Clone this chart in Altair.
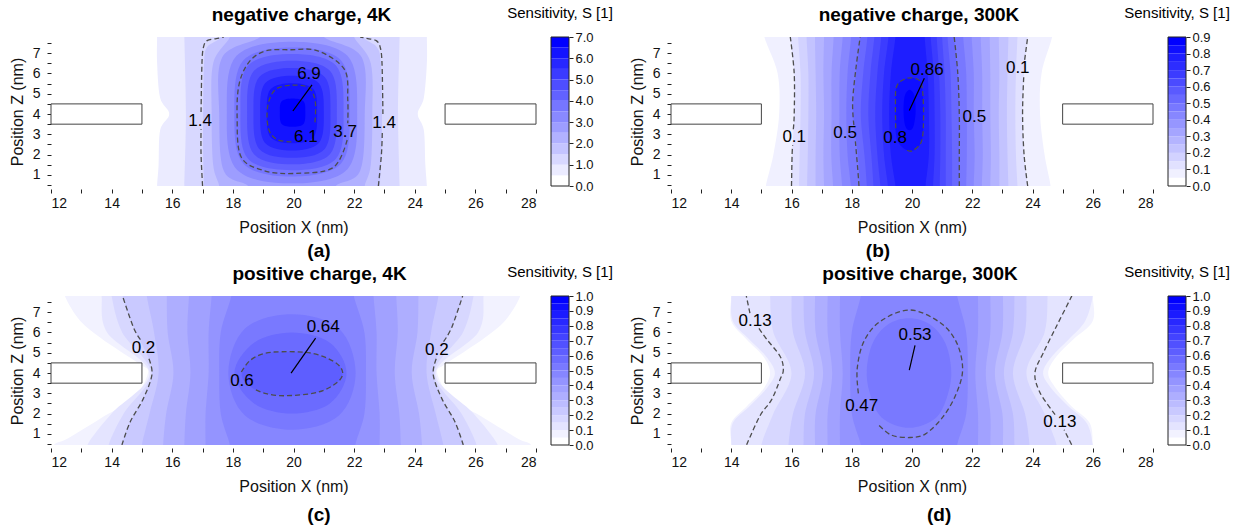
import altair as alt
import pandas as pd

FONT = "Liberation Sans"
XMIN, XMAX = 12, 28
ZMIN, ZMAX = 0.45, 7.8
PH = 149
CBW = 18
X_TICKS = list(range(12, 29))
Z_TICKS = [0.5 * i for i in range(1, 16)]

# electrodes (same in every panel)
BOX_X1 = [12, 25]
BOX_X2 = [15, 28]
BOX_Z1 = [3.5, 3.5]
BOX_Z2 = [4.5, 4.5]

# ---------------- (a) negative charge, 4K ----------------
A_STEP, A_NB, A_CB_TICKS = 0.5, 14, [0, 1, 2, 3, 4, 5, 6, 7]
A_STRIPS = [  # level, z rows, left x, right x
    (0.5, [0.45, 1.5, 3.2, 4.0, 4.8, 6.5, 7.8], [15.5, 15.55, 15.6, 15.9, 15.6, 15.5, 15.5], [24.4, 24.35, 24.3, 24.1, 24.3, 24.4, 24.4]),
    (1.0, [0.45, 4.0, 7.8], [16.4, 16.45, 16.4], [23.5, 23.45, 23.5]),
    (1.5, [0.45, 2.0, 4.0, 6.5, 7.3, 7.8], [17.05, 17.02, 17.02, 17.05, 17.15, 17.6], [22.85, 22.9, 22.92, 22.88, 22.75, 22.3]),
    (2.0, [0.45, 1.5, 4.0, 6.5, 7.8], [17.55, 17.35, 17.3, 17.35, 17.9], [22.35, 22.55, 22.6, 22.55, 22.0]),
    (2.5, [0.45, 1.2, 4.0, 6.8, 7.8], [18.5, 17.7, 17.55, 17.65, 18.9], [21.4, 22.2, 22.35, 22.25, 21.0]),
]
A_LOOPS = [  # level, x, z (closed)
    (3.0, [19.95, 21.78, 22.1, 21.78, 19.95, 18.12, 17.8, 18.12], [7.57, 6.87, 4.1, 1.28, 0.58, 1.28, 4.1, 6.87]),
    (3.5, [19.95, 21.57, 21.85, 21.57, 19.95, 18.34, 18.05, 18.34], [7.28, 6.64, 4.1, 1.56, 0.92, 1.56, 4.1, 6.64]),
    (4.0, [19.95, 21.4, 21.65, 21.4, 19.95, 18.5, 18.25, 18.5], [6.96, 6.39, 4.1, 1.8, 1.23, 1.8, 4.1, 6.39]),
    (4.5, [19.95, 21.21, 21.43, 21.21, 19.95, 18.69, 18.47, 18.69], [6.63, 6.12, 4.1, 2.03, 1.52, 2.03, 4.1, 6.12]),
    (5.0, [19.95, 21.03, 21.22, 21.03, 19.95, 18.87, 18.68, 18.87], [6.27, 5.83, 4.1, 2.28, 1.84, 2.28, 4.1, 5.83]),
    (5.5, [19.95, 20.84, 21.0, 20.84, 19.95, 19.06, 18.9, 19.06], [5.89, 5.52, 4.05, 2.57, 2.2, 2.57, 4.05, 5.52]),
    (6.0, [19.95, 20.66, 20.78, 20.66, 19.95, 19.24, 19.12, 19.24], [5.52, 5.22, 4.05, 2.86, 2.56, 2.86, 4.05, 5.22]),
    (6.5, [19.97, 20.33, 20.39, 20.33, 19.97, 19.61, 19.55, 19.61], [4.77, 4.63, 4.1, 3.51, 3.37, 3.51, 4.1, 4.63]),
]
A_DASH = [  # x, z (open dashed contour pieces; gaps where labels sit)
    ([17.0, 16.95, 16.95], [0.45, 2.0, 3.25]),
    ([16.95, 16.98, 17.03, 17.15, 17.45, 17.7], [4.1, 6.5, 7.3, 7.62, 7.72, 7.8]),
    ([22.8, 22.9, 22.93], [0.45, 2.0, 3.15]),
    ([22.95, 22.92, 22.86, 22.73, 22.45, 22.2], [4.0, 6.5, 7.3, 7.62, 7.72, 7.8]),
    ([19.93, 19.45, 19.17, 19.15, 19.4, 19.93, 20.5, 20.72, 20.7], [2.63, 2.75, 3.3, 4.4, 5.2, 5.42, 5.3, 4.6, 3.45]),
    ([21.77, 21.3, 20.05, 19.04, 18.27, 18.14, 18.21, 18.55, 19.1, 19.92, 20.8, 21.68, 21.79, 21.79],
     [2.72, 1.35, 1.07, 1.2, 1.89, 3.86, 5.5, 6.6, 7.12, 7.17, 7.12, 6.2, 4.7, 3.55]),
]
A_LAB_TEXT = ["6.9", "1.4", "6.1", "3.7", "1.4"]
A_LAB_X = [20.51, 16.92, 20.41, 21.7, 22.99]
A_LAB_Z = [5.98, 3.66, 2.87, 3.12, 3.56]
A_LEAD_X = [19.98, 20.61]
A_LEAD_Z = [4.15, 5.44]

# ---------------- (b) negative charge, 300K ----------------
B_STEP, B_NB, B_CB_TICKS = 0.05, 18, [0, 0.1, 0.2, 0.3, 0.4, 0.5, 0.6, 0.7, 0.8, 0.9]
B_Z = [0.45, 2.0, 4.0, 6.0, 7.8]
B_STRIPS = [
    (0.05, B_Z, [15.15, 15.4, 15.59, 15.54, 15.1], [24.6, 24.4, 24.25, 24.3, 24.65]),
    (0.10, B_Z, [16.0, 16.02, 16.09, 16.09, 15.96], [23.84, 23.72, 23.67, 23.72, 23.84]),
    (0.15, B_Z, [16.25, 16.27, 16.3, 16.3, 16.22], [23.5, 23.45, 23.43, 23.45, 23.5]),
    (0.20, B_Z, [16.52, 16.54, 16.56, 16.56, 16.5], [23.2, 23.17, 23.15, 23.17, 23.2]),
    (0.25, B_Z, [16.8, 16.8, 16.82, 16.8, 16.78], [22.9, 22.9, 22.88, 22.9, 22.88]),
    (0.30, B_Z, [17.08, 17.06, 17.08, 17.06, 17.08], [22.6, 22.62, 22.6, 22.6, 22.58]),
    (0.35, B_Z, [17.38, 17.32, 17.33, 17.33, 17.4], [22.32, 22.35, 22.33, 22.33, 22.28]),
    (0.40, B_Z, [17.68, 17.6, 17.59, 17.6, 17.7], [22.05, 22.08, 22.05, 22.05, 21.98]),
    (0.45, B_Z, [17.97, 17.86, 17.82, 17.86, 17.98], [21.8, 21.82, 21.82, 21.8, 21.7]),
    (0.50, B_Z, [18.27, 18.2, 18.05, 18.14, 18.28], [21.57, 21.57, 21.57, 21.52, 21.4]),
    (0.55, B_Z, [18.5, 18.42, 18.3, 18.38, 18.52], [21.33, 21.33, 21.31, 21.28, 21.18]),
    (0.60, B_Z, [18.72, 18.65, 18.55, 18.62, 18.75], [21.12, 21.12, 21.12, 21.08, 21.0]),
    (0.65, B_Z, [18.95, 18.85, 18.78, 18.85, 18.98], [20.92, 20.94, 20.94, 20.9, 20.82]),
    (0.70, B_Z, [19.2, 19.07, 19.01, 19.07, 19.22], [20.7, 20.75, 20.75, 20.72, 20.62]),
    (0.75, B_Z, [19.45, 19.3, 19.24, 19.3, 19.45], [20.45, 20.56, 20.56, 20.52, 20.42]),
]
B_LOOPS = [
    (0.80, [19.85, 20.25, 20.36, 20.38, 20.3, 20.0, 19.65, 19.47, 19.45, 19.5], [5.77, 5.65, 5.0, 3.5, 2.6, 2.18, 2.4, 3.0, 4.5, 5.4]),
    (0.85, [19.92, 20.08, 20.12, 20.05, 19.92, 19.78, 19.72, 19.76], [5.2, 4.9, 4.1, 3.4, 3.2, 3.4, 4.1, 4.9]),
]
B_DASH = [
    ([16.0, 16.02, 16.04], [0.45, 2.0, 2.45]),
    ([16.06, 16.09, 16.09, 15.96], [3.25, 4.0, 6.0, 7.8]),
    ([23.84, 23.72, 23.67, 23.71], [0.45, 2.0, 4.0, 5.87]),
    ([23.74, 23.84], [6.67, 7.8]),
    ([18.24, 18.2, 18.12], [0.45, 1.27, 2.65]),
    ([18.07, 18.03, 18.14, 18.28], [3.45, 4.6, 6.27, 7.8]),
    ([21.57, 21.57, 21.57, 21.52, 21.4], [0.45, 2.0, 4.0, 6.0, 7.8]),
    ([19.46, 19.45, 19.5, 19.85, 20.25, 20.36, 20.38, 20.3, 20.0, 19.8], [3.3, 4.5, 5.4, 5.77, 5.65, 5.0, 3.5, 2.6, 2.18, 2.25]),
]
B_LAB_TEXT = ["0.86", "0.1", "0.5", "0.8", "0.5", "0.1"]
B_LAB_X = [20.5, 16.09, 17.78, 19.44, 22.07, 23.51]
B_LAB_Z = [6.18, 2.85, 3.05, 2.82, 3.85, 6.27]
B_LEAD_X = [19.91, 20.41]
B_LEAD_Z = [4.18, 5.77]

# ---------------- (c) positive charge, 4K ----------------
C_STEP, C_NB, C_CB_TICKS = 0.05, 20, [0, 0.1, 0.2, 0.3, 0.4, 0.5, 0.6, 0.7, 0.8, 0.9, 1.0]
C_Z = [0.45, 2.0, 4.0, 6.0, 7.8]
C_STRIPS = [
    (0.05, [0.45, 0.75, 1.75, 2.75, 4.0, 4.42, 5.08, 5.75, 6.58, 7.8],
     [12.1, 12.52, 13.62, 14.72, 15.2, 14.95, 14.28, 13.62, 12.96, 12.46],
     [27.84, 27.42, 26.32, 25.22, 24.74, 24.99, 25.66, 26.32, 26.98, 27.48]),
    (0.10, C_Z, [13.2, 14.0, 15.25, 13.85, 13.67], [26.74, 25.94, 24.69, 26.09, 26.27]),
    (0.15, C_Z, [13.9, 14.4, 15.29, 14.35, 14.0], [26.04, 25.54, 24.65, 25.59, 25.94]),
    (0.20, [0.45, 1.58, 2.75, 3.92, 4.75, 6.25, 7.8], [14.34, 14.61, 15.05, 15.33, 15.22, 14.72, 14.36], [25.6, 25.33, 24.89, 24.61, 24.72, 25.22, 25.58]),
    (0.25, C_Z, [15.0, 15.25, 15.55, 15.4, 15.16], [24.94, 24.69, 24.39, 24.54, 24.78]),
    (0.30, C_Z, [15.7, 15.8, 16.04, 15.85, 15.82], [24.24, 24.14, 23.9, 24.09, 24.12]),
    (0.35, C_Z, [16.4, 16.45, 16.6, 16.5, 16.55], [23.54, 23.49, 23.34, 23.44, 23.39]),
    (0.40, C_Z, [17.1, 17.1, 17.2, 17.2, 17.3], [22.84, 22.84, 22.74, 22.74, 22.64]),
    (0.45, C_Z, [17.9, 17.6, 17.55, 17.6, 17.95], [22.04, 22.34, 22.39, 22.34, 21.99]),
]
C_LOOPS = [
    (0.50, [19.95, 21.5, 22.05, 21.5, 19.95, 18.4, 17.85, 18.4], [6.9, 6.2, 4.0, 1.9, 1.2, 1.9, 4.0, 6.2]),
    (0.55, [19.95, 21.2, 21.75, 21.2, 19.95, 18.7, 18.05, 18.7], [6.0, 5.5, 4.0, 2.5, 2.0, 2.5, 4.0, 5.5]),
    (0.60, [19.6, 20.6, 21.35, 21.62, 21.45, 20.8, 19.75, 18.85, 18.3, 18.55, 19.0], [5.05, 4.98, 4.55, 4.05, 3.55, 3.05, 2.88, 3.1, 3.8, 4.6, 4.95]),
]
C_DASH = [
    ([14.34, 14.61, 15.05, 15.33, 15.23], [0.45, 1.58, 2.75, 3.92, 4.7]),
    ([14.95, 14.72, 14.36], [5.65, 6.25, 7.8]),
    ([25.6, 25.33, 24.89, 24.61, 24.72], [0.45, 1.58, 2.75, 3.92, 4.75]),
    ([24.95, 25.22, 25.58], [5.55, 6.25, 7.8]),
    ([18.28, 18.55, 19.0, 19.6, 20.6, 21.35, 21.62, 21.45, 20.8, 19.75, 19.1, 18.72],
     [4.05, 4.6, 4.95, 5.05, 4.98, 4.55, 4.05, 3.55, 3.05, 2.88, 2.98, 3.2]),
]
C_LAB_TEXT = ["0.64", "0.2", "0.6", "0.2"]
C_LAB_X = [20.98, 15.05, 18.3, 24.73]
C_LAB_Z = [6.28, 5.22, 3.63, 5.15]
C_LEAD_X = [19.92, 20.73]
C_LEAD_Z = [4.0, 5.72]

# ---------------- (d) positive charge, 300K ----------------
D_STEP, D_NB, D_CB_TICKS = 0.05, 20, [0, 0.1, 0.2, 0.3, 0.4, 0.5, 0.6, 0.7, 0.8, 0.9, 1.0]
D_Z = [0.45, 2.0, 4.0, 6.0, 7.8]
D_ZE = [0.45, 1.53, 2.35, 3.2, 4.0, 4.83, 5.66, 6.57, 7.8]
D_STRIPS = [
    (0.05, D_ZE, [14.0, 14.0, 14.51, 15.06, 15.29, 15.06, 14.51, 14.0, 14.0], [26.0, 25.9, 25.3, 24.8, 24.52, 24.8, 25.35, 26.0, 26.0]),
    (0.10, D_ZE, [14.0, 14.05, 14.6, 15.15, 15.45, 15.15, 14.6, 14.05, 14.0], [26.0, 25.8, 25.2, 24.65, 24.35, 24.65, 25.2, 25.75, 26.0]),
    (0.15, D_Z, [15.0, 15.4, 16.0, 15.4, 15.29], [24.8, 24.4, 23.8, 24.4, 24.5]),
    (0.20, D_Z, [15.9, 16.05, 16.45, 16.05, 16.0], [23.9, 23.75, 23.35, 23.75, 23.8]),
    (0.25, D_Z, [16.4, 16.45, 16.75, 16.45, 16.4], [23.4, 23.35, 23.05, 23.35, 23.4]),
    (0.30, D_Z, [16.78, 16.8, 17.05, 16.8, 16.78], [23.02, 23.0, 22.75, 23.0, 23.02]),
    (0.35, D_Z, [17.2, 17.2, 17.35, 17.2, 17.2], [22.6, 22.6, 22.45, 22.6, 22.6]),
    (0.40, D_Z, [17.61, 17.61, 17.7, 17.61, 17.61], [22.19, 22.19, 22.1, 22.19, 22.19]),
    (0.45, D_Z, [18.3, 18.0, 17.95, 18.0, 18.3], [21.5, 21.8, 21.85, 21.8, 21.5]),
]
D_LOOPS = [
    (0.50, [19.9, 20.6, 21.1, 21.3, 21.2, 20.8, 19.9, 19.0, 18.6, 18.5, 18.7, 19.2], [6.7, 6.4, 5.5, 4.2, 3.0, 1.8, 1.3, 1.8, 3.0, 4.2, 5.5, 6.4]),
]
D_DASH = [
    ([14.51, 14.95, 15.34, 15.62, 15.73, 15.62, 15.18, 14.92], [0.46, 1.88, 2.69, 3.68, 4.17, 4.83, 5.66, 6.2]),
    ([14.62, 14.5], [6.95, 7.8]),
    ([25.3, 25.05], [0.46, 1.2]),
    ([24.75, 24.25, 24.08, 24.36, 24.8, 25.25, 25.3], [1.95, 3.03, 4.0, 5.0, 6.32, 7.64, 7.8]),
    ([18.22, 18.18, 18.4, 18.95, 19.93, 20.93, 21.48, 21.68, 21.48, 21.04, 20.45, 19.93, 19.3, 18.85],
     [3.0, 4.2, 5.55, 6.55, 7.11, 6.49, 5.5, 4.2, 3.02, 1.86, 1.0, 0.82, 0.95, 1.5]),
]
D_LAB_TEXT = ["0.53", "0.13", "0.47", "0.13"]
D_LAB_X = [20.1, 14.79, 18.33, 24.91]
D_LAB_Z = [5.86, 6.57, 2.35, 1.56]
D_LEAD_X = [19.91, 20.1]
D_LEAD_Z = [4.14, 5.36]

TITLES = ["negative charge, 4K", "negative charge, 300K", "positive charge, 4K", "positive charge, 300K"]
TITLE_DX = [8, 7, 26, 8]
SUB_TEXT = ["(a)", "(b)", "(c)", "(d)"]
SUB_X = [20.84, 18.87, 20.84, 20.9]
SUB_Z = [-2.76, -2.76, -3.0, -3.0]
PANEL_W = [485, 482, 485, 482]

CB_TITLE = "Sensitivity, S [1]"


def strip_points(z, xl, xr):
    zz = [z[0] - 0.8] + list(z) + [z[-1] + 0.8]
    ll = [xl[0]] + list(xl) + [xl[-1]]
    rr = [xr[0]] + list(xr) + [xr[-1]]
    pts = [(rr[i], zz[i]) for i in range(len(zz))]
    pts += [(ll[i], zz[i]) for i in range(len(zz) - 1, -1, -1)]
    return pts


def fill_scale(step, nb):
    return alt.Scale(domain=[0, (nb - 1) * step], range=["#ffffff", "#0000ff"], interpolate="rgb")


def panel(idx, strips, loops, step, nb, dashes, lab_t, lab_x, lab_z, lead_x, lead_z):
    w = PANEL_W[idx]
    xs = alt.Scale(domain=[XMIN, XMAX], nice=False, zero=False)
    ys = alt.Scale(domain=[ZMIN, ZMAX], nice=False, zero=False)
    xaxis = alt.Axis(values=X_TICKS, format="d", labelExpr="datum.value % 2 == 0 ? datum.label : ''",
                     title="Position X (nm)", domain=False, grid=False, tickSize=4, tickColor="#222",
                     labelFontSize=14, labelColor="#111", titleFontSize=16, titleFontWeight="normal",
                     titleColor="#111", titlePadding=9, labelPadding=3, offset=3)
    yaxis = alt.Axis(values=Z_TICKS, format=".0f", labelExpr="datum.value % 1 == 0 ? datum.label : ''",
                     title="Position Z (nm)", domain=False, grid=False, tickSize=4, tickColor="#222",
                     labelFontSize=14, labelColor="#111", titleFontSize=16, titleFontWeight="normal",
                     titleColor="#111", titlePadding=7, labelPadding=7)
    X = alt.X("x:Q", scale=xs, axis=xaxis)
    Y = alt.Y("z:Q", scale=ys, axis=yaxis)
    fscale = fill_scale(step, nb)

    polys = []
    for lev, z, xl, xr in strips:
        polys.append((lev, strip_points(z, xl, xr)))
    for lev, xx, zz in loops:
        polys.append((lev, list(zip(xx, zz))))
    polys.sort(key=lambda p: p[0])

    layers = []
    for lev, pts in polys:
        df = pd.DataFrame({"x": [p[0] for p in pts], "z": [p[1] for p in pts],
                           "o": list(range(len(pts))), "v": [lev] * len(pts)})
        layers.append(alt.Chart(df).mark_line(interpolate="cardinal-closed", strokeWidth=0, clip=True).encode(
            x=X, y=Y, order="o:Q", fill=alt.Fill("v:Q", scale=fscale, legend=None)))

    rows = []
    for i, (xx, zz) in enumerate(dashes):
        for j, (a, b) in enumerate(zip(xx, zz)):
            rows.append({"x": a, "z": b, "o": j, "pid": i})
    layers.append(alt.Chart(pd.DataFrame(rows)).mark_line(
        interpolate="cardinal", strokeDash=[5, 3], color="#4d4d4d", strokeWidth=1.3, clip=True).encode(
        x=X, y=Y, order="o:Q", detail="pid:N"))

    # electrodes
    bdf = pd.DataFrame({"x": BOX_X1, "x2": BOX_X2, "z": BOX_Z1, "z2": BOX_Z2})
    layers.append(alt.Chart(bdf).mark_rect(fill="white", stroke="#444444", strokeWidth=1).encode(
        x=X, x2="x2:Q", y=Y, y2="z2:Q"))

    # leader line
    ldf = pd.DataFrame({"x": lead_x, "z": lead_z, "o": [0, 1]})
    layers.append(alt.Chart(ldf).mark_line(color="black", strokeWidth=1.2).encode(x=X, y=Y, order="o:Q"))

    # contour labels
    tdf = pd.DataFrame({"x": lab_x, "z": lab_z, "t": lab_t})
    layers.append(alt.Chart(tdf).mark_text(fontSize=17, font=FONT, color="black", align="center",
                                           baseline="middle").encode(x=X, y=Y, text="t:N"))
    # sub-caption
    sdf = pd.DataFrame({"x": [SUB_X[idx]], "z": [SUB_Z[idx]], "t": [SUB_TEXT[idx]]})
    layers.append(alt.Chart(sdf).mark_text(fontSize=19, font=FONT, fontWeight="bold", color="black",
                                           align="center", baseline="middle").encode(x=X, y=Y, text="t:N"))

    return alt.layer(*layers).properties(
        width=w, height=PH,
        title=alt.TitleParams(TITLES[idx], fontSize=19, fontWeight="bold", font=FONT, color="black",
                              anchor="middle", frame="group", dx=TITLE_DX[idx], offset=12))


def colorbar(step, nb, ticks):
    lo = [k * step for k in range(nb)]
    df = pd.DataFrame({"lo": lo, "hi": [l + step for l in lo]})
    top = nb * step
    ys = alt.Scale(domain=[0, top], nice=False, zero=False)
    yaxis = alt.Axis(orient="right", values=ticks, format=".1f", title=None, domain=False, grid=False,
                     tickSize=4, tickColor="#222", labelFontSize=13, labelColor="#111", labelPadding=2)
    bars = alt.Chart(df).mark_rect().encode(
        x=alt.value(0), x2=alt.value(CBW),
        y=alt.Y("lo:Q", scale=ys, axis=yaxis), y2="hi:Q",
        fill=alt.Fill("lo:Q", scale=fill_scale(step, nb), legend=None))
    fdf = pd.DataFrame({"lo": [0], "hi": [top]})
    frame = alt.Chart(fdf).mark_rect(fillOpacity=0, stroke="#222222", strokeWidth=1).encode(
        x=alt.value(0), x2=alt.value(CBW), y=alt.Y("lo:Q", scale=ys, axis=yaxis), y2="hi:Q")
    return alt.layer(bars, frame).properties(
        width=CBW, height=PH,
        title=alt.TitleParams(CB_TITLE, fontSize=15, fontWeight="normal", font=FONT, color="black",
                              anchor="middle", frame="group", offset=10))


pa = panel(0, A_STRIPS, A_LOOPS, A_STEP, A_NB, A_DASH, A_LAB_TEXT, A_LAB_X, A_LAB_Z, A_LEAD_X, A_LEAD_Z)
pb = panel(1, B_STRIPS, B_LOOPS, B_STEP, B_NB, B_DASH, B_LAB_TEXT, B_LAB_X, B_LAB_Z, B_LEAD_X, B_LEAD_Z)
pc = panel(2, C_STRIPS, C_LOOPS, C_STEP, C_NB, C_DASH, C_LAB_TEXT, C_LAB_X, C_LAB_Z, C_LEAD_X, C_LEAD_Z)
pdd = panel(3, D_STRIPS, D_LOOPS, D_STEP, D_NB, D_DASH, D_LAB_TEXT, D_LAB_X, D_LAB_Z, D_LEAD_X, D_LEAD_Z)

cba = colorbar(A_STEP, A_NB, A_CB_TICKS)
cbb = colorbar(B_STEP, B_NB, B_CB_TICKS)
cbc = colorbar(C_STEP, C_NB, C_CB_TICKS)
cbd = colorbar(D_STEP, D_NB, D_CB_TICKS)

spacer = alt.Chart(pd.DataFrame({"s": [0]})).mark_point(opacity=0).encode(
    x=alt.X("s:Q", axis=None), y=alt.Y("s:Q", axis=None)).properties(width=72, height=PH)

chart = alt.concat(pa, cba, spacer, pb, cbb, pc, cbc, spacer, pdd, cbd,
                   columns=5, spacing={"row": 110, "column": 15}, bounds="flush", align="each").resolve_scale(
    fill="independent"
).properties(
    padding={"left": 9, "top": 6, "right": 5, "bottom": 5}
).configure(font=FONT).configure_view(strokeWidth=0)

chart.save("out.html", embed_options={"renderer": "svg", "actions": False})
